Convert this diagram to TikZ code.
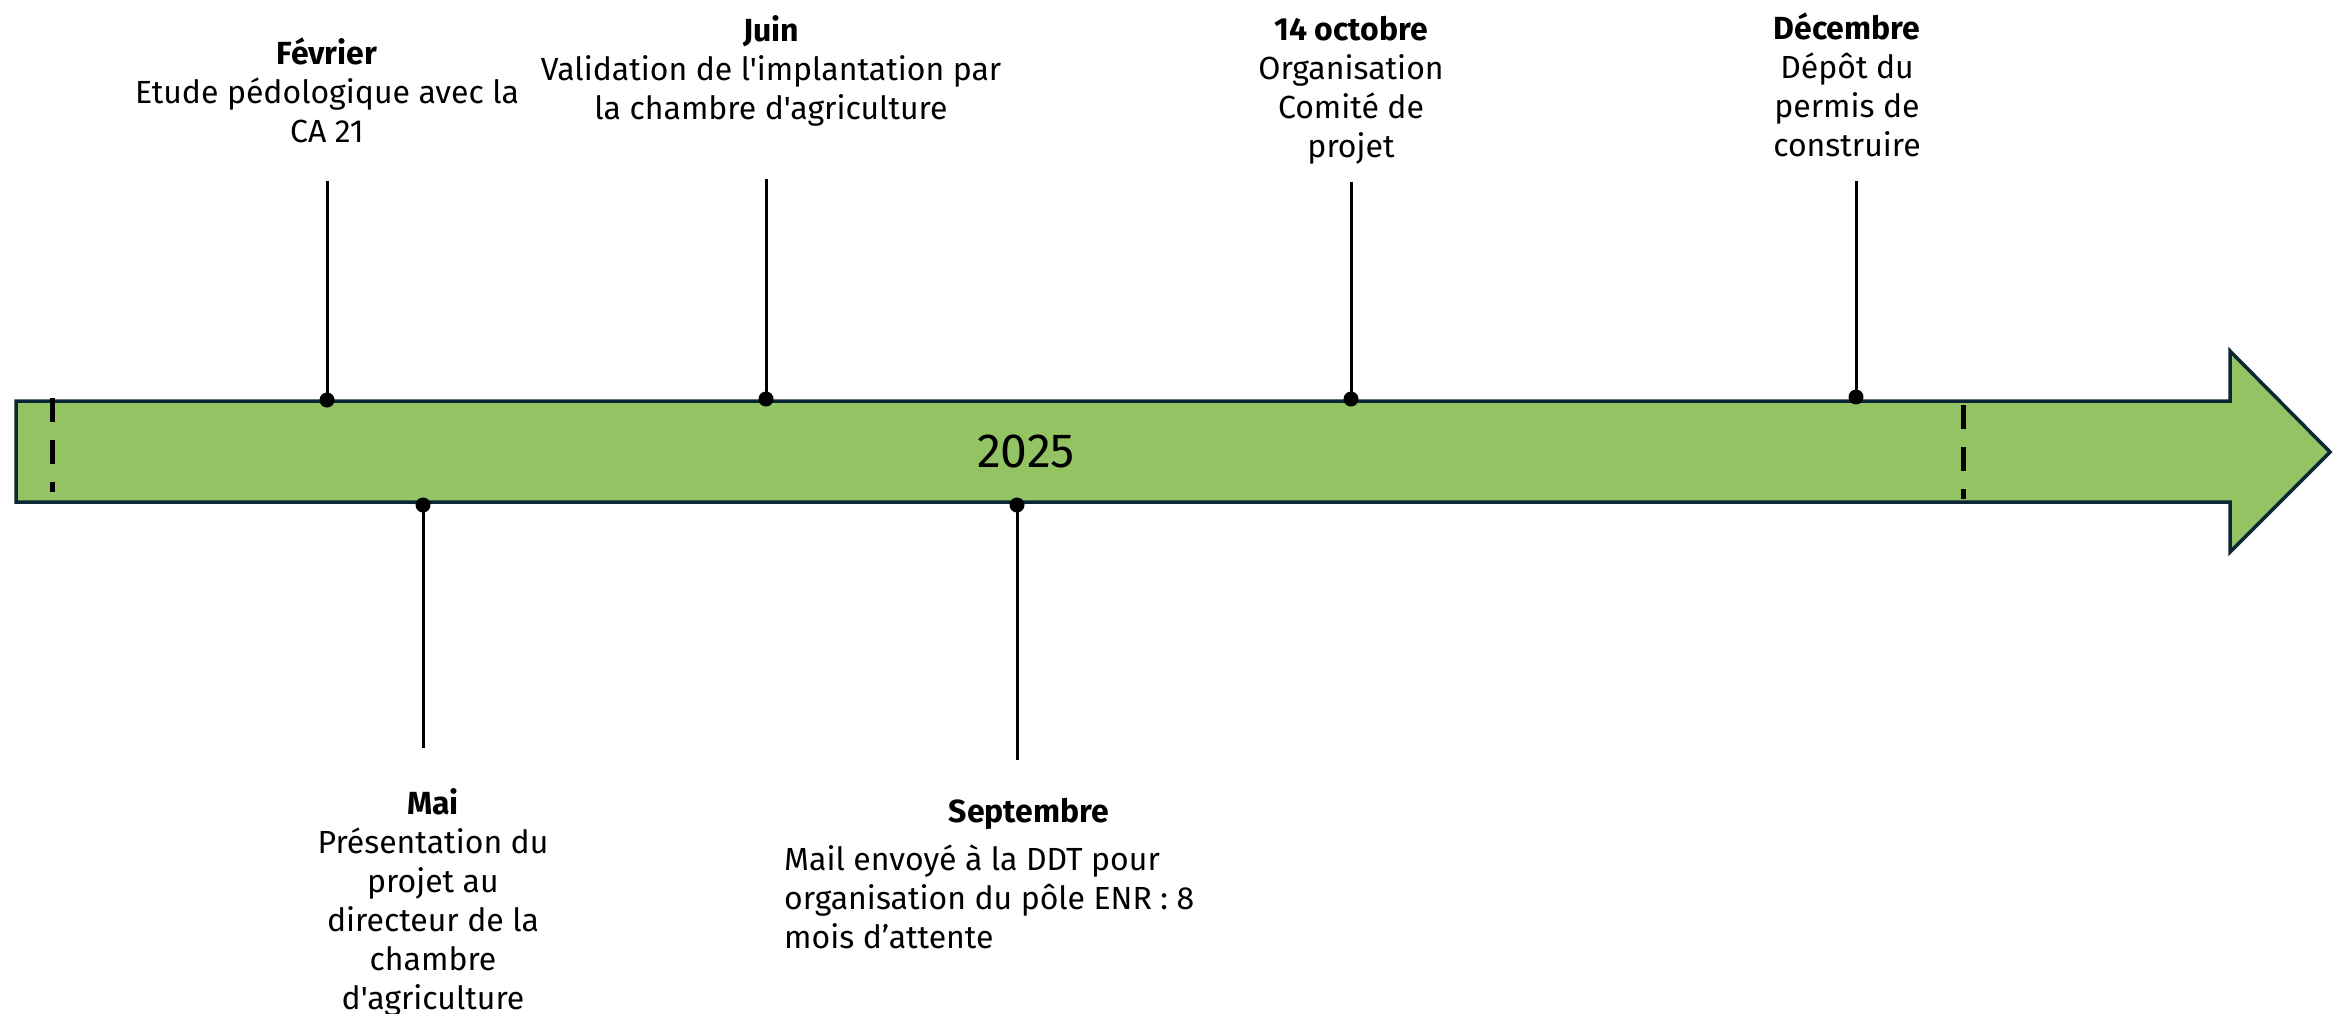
\documentclass[tikz,border=0pt]{standalone}
\usepackage{fontspec}
\setmainfont{Fira Sans}[Ligatures=TeXOff]
\definecolor{arrowgreen}{HTML}{94C364}
\definecolor{arrowline}{HTML}{0C2636}
\begin{document}
\begin{tikzpicture}[x=1pt,y=-1pt,
  lbl/.style={inner sep=0pt, align=center, font=\fontsize{32}{39}\selectfont},
  lblleft/.style={inner sep=0pt, align=left, font=\fontsize{32}{39}\selectfont},
  stem/.style={line width=3pt, black},
  pin/.style={circle, fill=black, inner sep=0pt, minimum size=15pt},
  cut/.style={line width=5pt, black, dash pattern=on 24pt off 18pt}]
\useasboundingbox (0,0) rectangle (2341,1013);
% main arrow
\draw[line width=3.5pt, arrowline, fill=arrowgreen, line join=miter]
  (16,401) -- (2230,401) -- (2230,351) -- (2330,452) -- (2230,552) -- (2230,502) -- (16,502) -- cycle;
\node[inner sep=0pt, font=\fontsize{48}{54}\selectfont] (year) at (1026,451) {2025};
% dashed marks
\coordinate (l1) at (52,398); \coordinate (l2) at (52,492);
\coordinate (r1) at (1963,405); \coordinate (r2) at (1963,499);
\draw[cut] (l1) -- (l2);
\draw[cut] (r1) -- (r2);
% pins
\coordinate (fevT) at (327,181); \node[pin] (fevD) at (327,400) {};
\coordinate (juiT) at (766,179); \node[pin] (juiD) at (766,399) {};
\coordinate (octT) at (1351,182); \node[pin] (octD) at (1351,399) {};
\coordinate (decT) at (1856,181); \node[pin] (decD) at (1856,397) {};
\coordinate (maiB) at (423,748); \node[pin] (maiD) at (423,505) {};
\coordinate (sepB) at (1017,760); \node[pin] (sepD) at (1017,505) {};
\draw[stem] (fevT) -- (fevD.center);
\draw[stem] (juiT) -- (juiD.center);
\draw[stem] (octT) -- (octD.center);
\draw[stem] (decT) -- (decD.center);
\draw[stem] (maiB) -- (maiD.center);
\draw[stem] (sepB) -- (sepD.center);
% labels
\node[lbl] (fev) at (327,90) {\textbf{Février}\\Etude pédologique avec la\\CA 21};
\node[lbl] (jui) at (771,71) {\textbf{Juin}\\Validation de l'implantation par\\la chambre d'agriculture};
\node[lbl] (oct) at (1351,90) {\textbf{14 octobre}\\Organisation\\Comité de\\projet};
\node[lbl] (dec) at (1847,85) {\textbf{Décembre}\\Dépôt du\\permis de\\construire};
\node[lbl] (mai) at (433,902) {\textbf{Mai}\\Présentation du\\projet au\\directeur de la\\chambre\\d'agriculture};
\node[lbl] (seph) at (1029,814) {\textbf{Septembre}};
\node[lblleft, anchor=west] (sepb) at (784,897) {Mail envoyé à la DDT pour\\organisation du pôle ENR : 8\\mois d’attente};
\end{tikzpicture}
\end{document}
